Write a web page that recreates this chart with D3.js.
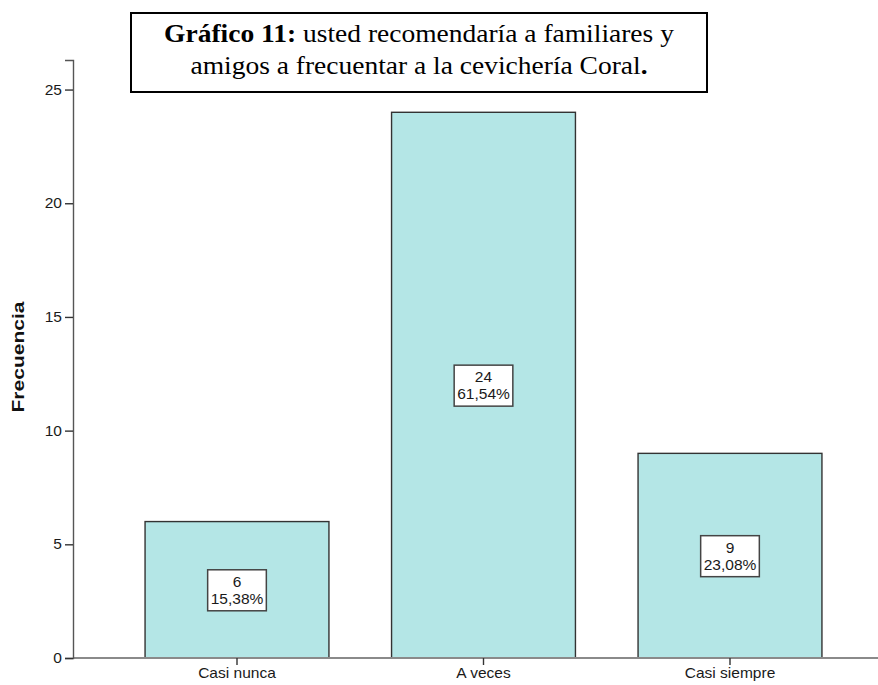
<!DOCTYPE html>
<html>
<head>
<meta charset="utf-8">
<script src="https://cdn.jsdelivr.net/npm/d3@7/dist/d3.min.js"></script>
<style>
  html, body { margin: 0; padding: 0; background: #fff; }
  svg { display: block; }
</style>
</head>
<body>
<svg id="chart" width="878" height="685"></svg>
<script>
// Frequency of answers
const categories = ["Casi nunca", "A veces", "Casi siempre"];
const counts = [6, 24, 9];
const yTicks = [0, 5, 10, 15, 20, 25];
const titleBold = "Gráfico 11:";
const titleRest = " usted recomendaría a familiares y";
const titleLine2 = "amigos a frecuentar a la cevichería Coral";
const yLabel = "Frecuencia";

const total = d3.sum(counts);
const pct = v => (v / total * 100).toFixed(2).replace(".", ",") + "%";

const W = 878, H = 685;
const SX = 1.11; // horizontal widening of sans glyphs
const FS = 14;
const svg = d3.select("#chart");

const axisX0 = 73;
const y = d3.scaleLinear().domain([0, 26.3]).range([658, 60]);
const x = d3.scaleBand().domain(categories).range([113.75, 853.25])
  .paddingInner(0.254).paddingOuter(0.127);

function stretch(sel, k = SX) {
  sel.each(function () {
    const t = d3.select(this);
    const tx = +t.attr("x") || 0;
    t.attr("transform", `translate(${tx * (1 - k)},0) scale(${k},1)`);
  });
}

// bars
svg.append("g").selectAll("rect").data(categories).join("rect")
  .attr("x", d => x(d))
  .attr("y", (d, i) => y(counts[i]))
  .attr("width", x.bandwidth())
  .attr("height", (d, i) => y(0) - y(counts[i]))
  .attr("fill", "#b4e6e6")
  .attr("stroke", "#333")
  .attr("stroke-width", 1.4);

// x baseline across the full width
svg.append("line")
  .attr("x1", axisX0).attr("x2", W)
  .attr("y1", y(0)).attr("y2", y(0))
  .attr("stroke", "#8a8a8a").attr("stroke-width", 2);

// y axis
const gy = svg.append("g").attr("transform", `translate(${axisX0},0)`)
  .call(d3.axisLeft(y).tickValues(yTicks).tickSize(8).tickPadding(3).tickFormat(d3.format("d")));
gy.select(".domain").attr("stroke", "#555").attr("stroke-width", 1.4);
gy.selectAll(".tick line").attr("stroke", "#333").attr("stroke-width", 1.4);
gy.selectAll(".tick text")
  .attr("font-family", "Arial, 'Liberation Sans', sans-serif")
  .attr("font-size", FS).attr("fill", "#1a1a1a")
  .call(stretch);

// x axis ticks and labels
const gx = svg.append("g").attr("transform", `translate(0,${y(0)})`)
  .call(d3.axisBottom(x).tickSize(7).tickPadding(3));
gx.select(".domain").remove();
gx.selectAll(".tick line").attr("stroke", "#333").attr("stroke-width", 1.4);
gx.selectAll(".tick text")
  .attr("font-family", "Arial, 'Liberation Sans', sans-serif")
  .attr("font-size", FS).attr("fill", "#1a1a1a")
  .call(stretch);

// y axis title
svg.append("text")
  .attr("transform", "translate(24,357) rotate(-90)")
  .attr("text-anchor", "middle")
  .attr("font-family", "Arial, 'Liberation Sans', sans-serif")
  .attr("font-weight", "bold")
  .attr("font-size", 16)
  .attr("fill", "#111")
  .attr("textLength", 111)
  .attr("lengthAdjust", "spacingAndGlyphs")
  .text(yLabel);

// value labels inside bars
const lab = svg.append("g").selectAll("g").data(categories).join("g")
  .attr("transform", (d, i) => `translate(${x(d) + x.bandwidth() / 2},${(y(counts[i]) + y(0)) / 2})`);
const box = lab.append("rect").attr("fill", "#fff").attr("stroke", "#444").attr("stroke-width", 1.5);
lab.append("text").attr("class", "l1").attr("y", -3).attr("text-anchor", "middle")
  .attr("font-family", "Arial, 'Liberation Sans', sans-serif").attr("font-size", FS).attr("fill", "#1a1a1a")
  .text((d, i) => counts[i]).call(stretch);
lab.append("text").attr("class", "l2").attr("y", 14).attr("text-anchor", "middle")
  .attr("font-family", "Arial, 'Liberation Sans', sans-serif").attr("font-size", FS).attr("fill", "#1a1a1a")
  .text((d, i) => pct(counts[i])).call(stretch);
box.each(function () {
  const g = d3.select(this.parentNode);
  const w = g.select(".l2").node().getBBox().width * SX + 6;
  d3.select(this).attr("x", -w / 2).attr("y", -20).attr("width", w).attr("height", 41);
});

// title box
const tb = svg.append("g");
tb.append("rect").attr("x", 131).attr("y", 13).attr("width", 576).attr("height", 79)
  .attr("fill", "#fff").attr("stroke", "#000").attr("stroke-width", 2);
const t1 = tb.append("text").attr("x", 419).attr("y", 42).attr("text-anchor", "middle")
  .attr("font-family", "'Times New Roman', 'Liberation Serif', serif").attr("font-size", 25).attr("fill", "#000");
t1.append("tspan").attr("font-weight", "bold").text(titleBold);
t1.append("tspan").text(titleRest);
const t2 = tb.append("text").attr("x", 419).attr("y", 74).attr("text-anchor", "middle")
  .attr("font-family", "'Times New Roman', 'Liberation Serif', serif").attr("font-size", 25).attr("fill", "#000");
t2.append("tspan").text(titleLine2);
t2.append("tspan").attr("font-weight", "bold").text(".");
t1.call(stretch, 1.1);
t2.call(stretch, 1.1);
</script>
</body>
</html>
